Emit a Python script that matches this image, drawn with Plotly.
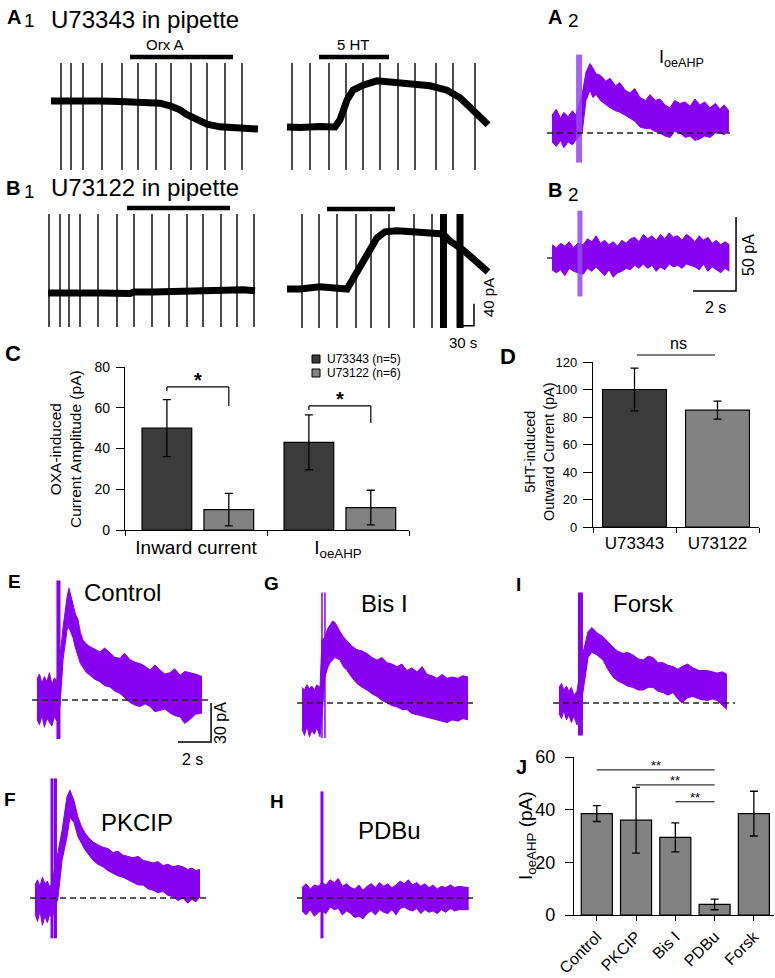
import plotly.graph_objects as go

W, H = 775, 978
FONT = "Arial, 'Liberation Sans', sans-serif"
PURPLE = "#8800f0"
ART = "rgba(150, 70, 240, 0.85)"
DARK = "#3b3b3b"
GRAY = "#828282"

# ---------------- data ----------------
# A1: U73343 in pipette (time in s, holding current in pA)
a1_orx_t = [0, 48, 98, 138, 164, 198, 218, 238, 258, 272, 292, 312, 338, 364, 392, 414]
a1_orx_i = [0, 1, 0, -1, -2, -2, -4, -9, -16, -25, -35, -42, -47, -49, -49, -51]
a1_orx_spikes = [20, 40, 64, 102, 142, 174, 210, 240, 280, 312, 348, 382]
a1_orx_app = [158, 364]

a1_5ht_t = [0, 26, 66, 96, 106, 120, 132, 152, 180, 206, 246, 286, 320, 346, 366, 386, 402]
a1_5ht_i = [0, -1, 1, 0, 13, 49, 67, 76, 84, 82, 80, 75, 67, 53, 36, 18, 4]
a1_5ht_spikes = [10, 46, 84, 118, 152, 186, 222, 256, 298, 332, 376]
a1_5ht_app = [64, 204]

# B1: U73122 in pipette
b1_orx_t = [0, 52, 104, 164, 172, 210, 244, 304, 340, 364, 390, 414]
b1_orx_i = [0, 1, 0, -1, 2, 2, 3, 3, 5, 5, 6, 4]
b1_orx_spikes = [2, 24, 42, 64, 100, 138, 172, 208, 242, 278, 310, 346, 378, 412]
b1_orx_app = [158, 364]

b1_5ht_t = [0, 26, 66, 96, 120, 140, 160, 180, 196, 220, 250, 286, 312, 326, 352, 380, 402]
b1_5ht_i = [0, 0, 4, 0, 0, 31, 65, 93, 104, 106, 104, 103, 100, 87, 71, 49, 31]
b1_5ht_spikes = [30, 64, 100, 138, 168, 204, 254, 290]
b1_5ht_bursts = [313, 346]
b1_5ht_app = [80, 216]
SPIKE_AMP = 400  # spikes are off-scale (clipped by the panel)

# A2 / B2: IoeAHP traces (time s, current pA) - upper / lower envelope of noisy record
a2_t = [0.00, 0.20, 0.40, 0.55, 0.75, 0.95, 1.10, 1.40, 1.58, 1.77, 1.90, 2.05, 2.25, 2.50, 2.70,
        2.95, 3.16, 3.40, 3.63, 3.85, 4.09, 4.35, 4.56, 4.80, 5.02, 5.25, 5.49, 5.70, 5.95, 6.20,
        6.42, 6.65, 6.88, 7.10, 7.35, 7.60, 7.81, 8.00, 8.23]
a2_hi = [12, 16, 10, 14, 11, 15, 12, 26, 41, 47, 44, 40, 39, 35, 37, 32, 34, 29, 27, 30, 24, 22,
         26, 22, 23, 19, 17, 22, 20, 21, 18, 23, 19, 21, 17, 20, 16, 19, 15]
a2_lo = [-6, -9, -5, -10, -6, -8, -5, 0, 22, 29, 24, 26, 22, 19, 17, 15, 14, 12, 10, 8, 4, 3, 3,
         1, 0, -2, -3, 1, 0, -3, -2, -5, -4, -2, -3, 0, 0, -1, 1]
a2_art = [1.26]
a2_art_range = [-20, 53]

b2_t = [0.00, 0.20, 0.40, 0.60, 0.80, 1.00, 1.20, 1.45, 1.65, 1.85, 2.05, 2.25, 2.45, 2.65, 2.85,
        3.05, 3.25, 3.45, 3.65, 3.85, 4.05, 4.25, 4.45, 4.65, 4.85, 5.05, 5.25, 5.45, 5.65, 5.85,
        6.05, 6.25, 6.45, 6.65, 6.85, 7.05, 7.25, 7.45, 7.65, 7.85, 8.05, 8.25]
b2_hi = [9, 7, 10, 8, 11, 7, 10, 9, 13, 11, 15, 10, 12, 9, 11, 8, 12, 10, 13, 14, 11, 16, 13, 15,
         12, 16, 13, 17, 14, 15, 12, 16, 14, 11, 15, 12, 14, 10, 12, 9, 11, 9]
b2_lo = [-8, -10, -8, -12, -7, -9, -10, -11, -7, -9, -6, -9, -12, -8, -13, -10, -9, -7, -8, -5,
         -7, -4, -7, -5, -9, -6, -8, -4, -6, -5, -7, -4, -5, -6, -8, -4, -9, -6, -8, -10, -7, -9]
b2_art = [1.30]
b2_art_range = [-26, 32]

# E-I: IoeAHP under different conditions
e_t = [0.00, 0.15, 0.30, 0.45, 0.60, 0.75, 0.90, 1.05, 1.20, 1.39, 1.58, 1.82, 1.94, 2.05, 2.18,
       2.33, 2.48, 2.63, 2.79, 3.00, 3.21, 3.50, 3.82, 4.10, 4.42, 4.70, 5.03, 5.30, 5.64, 5.95,
       6.24, 6.55, 6.85, 7.15, 7.45, 7.75, 8.06, 8.35, 8.67, 8.95, 9.27, 9.60, 10.0]
e_hi = [16, 20, 13, 18, 14, 21, 12, 17, 15, 33, 56, 79, 86, 80, 75, 66, 62, 52, 46, 43, 41, 39,
        37, 40, 36, 33, 32, 36, 31, 29, 28, 26, 23, 27, 23, 20, 21, 24, 19, 22, 21, 20, 18]
e_lo = [-15, -19, -12, -21, -14, -17, -20, -13, -16, -5, 31, 54, 56, 52, 48, 40, 33, 28, 25, 21,
        19, 16, 14, 11, 10, 7, 5, 2, -2, -4, -5, -3, -5, -9, -8, -7, -10, -12, -13, -18, -15, -11, -10]
e_art = [1.30]
e_art_range = [-30, 92]

f_t = [0.00, 0.15, 0.30, 0.45, 0.60, 0.75, 0.90, 1.03, 1.39, 1.64, 1.94, 2.12, 2.36, 2.61, 2.82,
       3.03, 3.27, 3.52, 3.80, 4.12, 4.42, 4.73, 5.03, 5.33, 5.64, 5.94, 6.25, 6.55, 6.85, 7.15,
       7.45, 7.76, 8.06, 8.36, 8.67, 8.97, 9.25, 9.52, 9.75, 10.0]
f_hi = [10, 14, 9, 16, 11, 13, 8, 12, 35, 52, 78, 83, 75, 62, 55, 50, 46, 43, 41, 39, 38, 35, 36,
        33, 32, 31, 32, 29, 28, 27, 28, 25, 26, 24, 25, 24, 22, 23, 21, 22]
f_lo = [-12, -18, -10, -21, -14, -19, -12, -16, 0, 29, 47, 62, 58, 47, 42, 37, 33, 29, 26, 24, 21,
        19, 17, 16, 14, 12, 10, 10, 7, 6, 4, 5, 2, 1, -2, 0, -4, -1, -3, 1]
f_art = [1.03, 1.24]
f_art_range = [-31, 92]

g_t = [0.00, 0.15, 0.30, 0.45, 0.60, 0.75, 0.90, 1.09, 1.21, 1.39, 1.55, 1.70, 1.85, 2.00, 2.15,
       2.30, 2.50, 2.73, 3.00, 3.33, 3.65, 3.94, 4.25, 4.55, 4.85, 5.15, 5.45, 5.76, 6.05, 6.36,
       6.65, 6.97, 7.28, 7.58, 7.88, 8.18, 8.50, 8.79, 9.10, 9.45, 9.75, 10.06]
g_hi = [12, 10, 14, 11, 13, 10, 14, 12, 48, 51, 57, 60, 63, 62, 58, 55, 51, 48, 44, 41, 40, 38, 35,
        33, 35, 31, 30, 28, 30, 25, 27, 24, 28, 22, 21, 19, 22, 19, 20, 19, 21, 20]
g_lo = [-20, -25, -18, -26, -21, -24, -19, -26, -11, 20, 27, 31, 33, 35, 34, 33, 28, 25, 20, 15, 12,
        10, 7, 5, 2, 0, -2, -3, -5, -5, -8, -9, -10, -11, -12, -13, -14, -15, -13, -14, -12, -13]
g_art = [1.21, 1.39]
g_art_range = [-27, 85]

h_t = [0.00, 0.25, 0.50, 0.75, 1.00, 1.20, 1.45, 1.70, 1.95, 2.20, 2.45, 2.70, 2.95, 3.20, 3.45,
       3.70, 3.95, 4.20, 4.45, 4.70, 4.95, 5.20, 5.45, 5.70, 5.95, 6.20, 6.45, 6.70, 6.95, 7.20,
       7.45, 7.70, 7.95, 8.20, 8.45, 8.70, 9.00, 9.25, 9.50, 10.1]
h_hi = [8, 11, 7, 10, 9, 12, 10, 14, 12, 15, 9, 11, 8, 7, 10, 6, 9, 11, 8, 12, 9, 11, 8, 10, 13,
        11, 14, 10, 12, 9, 11, 8, 10, 7, 9, 8, 10, 8, 9, 8]
h_lo = [-10, -13, -9, -14, -11, -10, -12, -7, -9, -8, -13, -10, -12, -15, -14, -16, -12, -10, -13,
        -9, -11, -12, -9, -13, -8, -7, -9, -10, -8, -12, -9, -11, -10, -12, -9, -11, -8, -10, -9, -9]
h_art = [1.21]
h_art_range = [-31, 82]

i_t = [0.00, 0.15, 0.30, 0.45, 0.60, 0.75, 0.90, 1.09, 1.45, 1.76, 2.00, 2.30, 2.67, 2.95, 3.27,
       3.55, 3.88, 4.15, 4.48, 4.80, 5.09, 5.40, 5.70, 6.00, 6.30, 6.60, 6.91, 7.20, 7.45, 7.80,
       8.12, 8.50, 8.97, 9.30, 9.58, 9.90, 10.18]
i_hi = [12, 15, 10, 13, 9, 12, 6, 9, 38, 55, 58, 54, 51, 47, 43, 40, 38, 39, 37, 34, 33, 36, 35,
        31, 31, 29, 28, 26, 28, 30, 27, 25, 25, 24, 23, 24, 22]
i_lo = [-8, -12, -6, -13, -9, -15, -10, -17, 8, 35, 39, 37, 33, 26, 20, 17, 15, 13, 12, 10, 10, 12,
        12, 9, 8, 6, 8, 3, 0, 4, 5, 3, 2, 3, 2, -2, -5]
i_art = [1.30]
i_art_range = [-25, 85]

# C: OXA-induced current amplitude (pA)
c_groups = ["Inward current", "I<sub>oeAHP</sub>"]
c_u73343 = [50, 43]
c_u73343_err = [14, 13.5]
c_u73122 = [10, 11]
c_u73122_err = [8, 8.5]
c_sig = [[70.2, 60.9], [60.9, 52.5]]  # bracket heights (left top, right end)

# D: 5HT-induced outward current (pA)
d_groups = ["U73343", "U73122"]
d_vals = [100, 85]
d_err = [15.5, 6.5]

# J: IoeAHP (pA)
j_groups = ["Control", "PKCIP", "Bis I", "PDBu", "Forsk"]
j_vals = [38.5, 36, 29.5, 4, 38.5]
j_err = [3, 12.5, 5.5, 2, 8.5]
j_sig = [[0, 3, 55.1], [1, 3, 49.4], [2, 3, 43.0]]

# ---------------- figure ----------------
fig = go.Figure()
layout = {}
shapes = []
anns = []


def axn(i):
    return "" if i == 1 else str(i)


def trace_axes(i, box, x0, sx, y0, sy):
    l, t, r, b = box
    n = axn(i)
    layout["xaxis" + n] = dict(domain=[l / W, r / W], range=[(l - x0) / sx, (r - x0) / sx],
                               visible=False, anchor="y" + n, automargin=False)
    layout["yaxis" + n] = dict(domain=[1 - b / H, 1 - t / H], range=[(y0 - b) / sy, (y0 - t) / sy],
                               visible=False, anchor="x" + n, automargin=False)
    return "x" + n, "y" + n


def line(xa, ya, xs, ys, color="black", width=1.2, dash=None):
    fig.add_trace(go.Scatter(x=xs, y=ys, mode="lines", xaxis=xa, yaxis=ya, hoverinfo="skip",
                             line=dict(color=color, width=width, dash=dash)))


def black_panel(xa, ya, t, cur, spikes, app, app_y, bursts=()):
    sx, sy = [], []
    for s in spikes:
        sx += [s, s, None]
        sy += [-SPIKE_AMP, SPIKE_AMP, None]
    line(xa, ya, sx, sy, width=1.4)
    for b in bursts:
        line(xa, ya, [b, b], [-SPIKE_AMP, SPIKE_AMP], width=7)
    line(xa, ya, t, cur, width=7)
    shapes.append(dict(type="line", xref=xa, yref="paper", x0=app[0], x1=app[1],
                       y0=1 - app_y / H, y1=1 - app_y / H, line=dict(color="black", width=4.5)))


def purple_panel(xa, ya, t, hi, lo, arts, art_range, art_w=4, art_color=PURPLE, base=None):
    fig.add_trace(go.Scatter(x=t, y=lo, mode="lines", xaxis=xa, yaxis=ya, hoverinfo="skip",
                             line=dict(color=PURPLE, width=1)))
    fig.add_trace(go.Scatter(x=t, y=hi, mode="lines", xaxis=xa, yaxis=ya, hoverinfo="skip",
                             fill="tonexty", fillcolor=PURPLE, line=dict(color=PURPLE, width=1)))
    for a in arts:
        line(xa, ya, [a, a], art_range, color=art_color, width=art_w)
    if base is not None:
        line(xa, ya, base, [0, 0], color="#222", width=1.3, dash="6px,4px")


def ann(text, x, y, size, bold=False, xanchor="center", angle=0, color="black"):
    if bold:
        text = "<b>" + text + "</b>"
    anns.append(dict(text=text, x=x / W, y=1 - y / H, xref="paper", yref="paper", showarrow=False,
                     xanchor=xanchor, yanchor="middle", textangle=angle,
                     font=dict(size=size, color=color, family=FONT)))


# A1
xa, ya = trace_axes(1, (45, 63, 262, 170), 51, 0.5, 101, 0.55)
black_panel(xa, ya, a1_orx_t, a1_orx_i, a1_orx_spikes, a1_orx_app, 57)
xa, ya = trace_axes(2, (282, 63, 492, 170), 287, 0.5, 127, 0.55)
black_panel(xa, ya, a1_5ht_t, a1_5ht_i, a1_5ht_spikes, a1_5ht_app, 57)
# B1
xa, ya = trace_axes(3, (44, 214, 260, 327), 48, 0.5, 293, 0.55)
black_panel(xa, ya, b1_orx_t, b1_orx_i, b1_orx_spikes, b1_orx_app, 208)
xa, ya = trace_axes(4, (282, 214, 492, 328), 287, 0.5, 289, 0.55)
black_panel(xa, ya, b1_5ht_t, b1_5ht_i, b1_5ht_spikes, b1_5ht_app, 209, bursts=b1_5ht_bursts)
line(xa, ya, [344, 374, 374], [-67, -67, -27], width=1.5)  # 30 s / 40 pA scale bar

# A2
xa, ya = trace_axes(5, (540, 40, 745, 170), 552, 21.5, 133, 1.48)
purple_panel(xa, ya, a2_t, a2_hi, a2_lo, a2_art, a2_art_range, art_w=6, art_color=ART,
             base=[-0.23, 8.28])
# B2
xa, ya = trace_axes(6, (540, 200, 745, 300), 552, 21.5, 258, 1.48)
line(xa, ya, [-0.23, 0], [0, 0], width=1.2)
purple_panel(xa, ya, b2_t, b2_hi, b2_lo, b2_art, b2_art_range, art_w=5, art_color=ART)
line(xa, ya, [6.56, 8.56, 8.56], [-22.3, -22.3, 27.7], width=1.5)  # 2 s / 50 pA

# E
xa, ya = trace_axes(7, (25, 570, 230, 750), 37, 16.5, 700, 1.3)
purple_panel(xa, ya, e_t, e_hi, e_lo, e_art, e_art_range, art_w=4, base=[-0.3, 10.36])
line(xa, ya, [8.55, 10.55, 10.55], [-32.3, -32.3, -2.3], width=1.5)  # 2 s / 30 pA
# F
xa, ya = trace_axes(8, (25, 775, 230, 945), 35, 16.5, 898, 1.3)
purple_panel(xa, ya, f_t, f_hi, f_lo, f_art, f_art_range, art_w=3, base=[-0.3, 10.48])
# G
xa, ya = trace_axes(9, (290, 580, 485, 745), 302, 16.5, 703, 1.3)
purple_panel(xa, ya, g_t, g_hi, g_lo, g_art, g_art_range, art_w=1.5, base=[-0.3, 10.6])
# H
xa, ya = trace_axes(10, (290, 785, 485, 945), 302, 16.5, 898, 1.3)
purple_panel(xa, ya, h_t, h_hi, h_lo, h_art, h_art_range, art_w=3, base=[-0.3, 10.6])
# I
xa, ya = trace_axes(11, (545, 580, 745, 745), 559, 16.5, 703, 1.3)
purple_panel(xa, ya, i_t, i_hi, i_lo, i_art, i_art_range, art_w=5, base=[-0.36, 10.67])

# ---------------- bar charts ----------------
EB = dict(type="data", color="black", thickness=1.3, width=4)
BL = dict(color="black", width=1.2)
fig.add_trace(go.Bar(x=c_groups, y=c_u73343, width=0.35, offset=-0.38, name="U73343 (n=5)",
                     marker=dict(color=DARK, line=BL), error_y=dict(array=c_u73343_err, **EB),
                     xaxis="x12", yaxis="y12"))
fig.add_trace(go.Bar(x=c_groups, y=c_u73122, width=0.35, offset=0.056, name="U73122 (n=6)",
                     marker=dict(color=GRAY, line=BL), error_y=dict(array=c_u73122_err, **EB),
                     xaxis="x12", yaxis="y12"))
fig.add_trace(go.Bar(x=d_groups, y=d_vals, width=0.77, marker=dict(color=[DARK, GRAY], line=BL),
                     error_y=dict(array=d_err, **EB), xaxis="x13", yaxis="y13"))
fig.add_trace(go.Bar(x=j_groups, y=j_vals, width=0.79, marker=dict(color=GRAY, line=BL),
                     error_y=dict(array=j_err, **EB), xaxis="x14", yaxis="y14"))

AX = dict(showline=True, linecolor="black", linewidth=1.3, ticks="outside", tickcolor="black",
          tickwidth=1.3, showgrid=False, zeroline=False, fixedrange=True, automargin=False)
layout["xaxis12"] = dict(AX, domain=[125 / W, 409 / W], anchor="y12", type="category",
                         range=[-0.5, 1.5], tickson="boundaries", ticklen=5,
                         tickfont=dict(size=19))
layout["yaxis12"] = dict(AX, domain=[1 - 530 / H, 1 - 367 / H], anchor="x12", range=[0, 80],
                         dtick=20, ticklen=8, tickfont=dict(size=14), ticklabelstandoff=3)
layout["xaxis13"] = dict(AX, domain=[593 / W, 759 / W], anchor="y13", type="category",
                         range=[-0.5, 1.5], tickson="boundaries", ticklen=5,
                         tickfont=dict(size=17))
layout["yaxis13"] = dict(AX, domain=[1 - 527 / H, 1 - 362 / H], anchor="x13", range=[0, 120],
                         dtick=20, ticklen=9, tickfont=dict(size=13), ticklabelstandoff=3)
layout["xaxis14"] = dict(AX, domain=[574 / W, 773.5 / W], anchor="y14", type="category",
                         range=[-0.58, 4.5], ticklen=5, tickangle=-45, tickfont=dict(size=16))
layout["yaxis14"] = dict(AX, domain=[1 - 915 / H, 1 - 757 / H], anchor="x14", range=[0, 60],
                         dtick=20, ticklen=8, tickfont=dict(size=18), ticklabelstandoff=6)

# C significance brackets (bar centres)
for g, (ytop, yend) in enumerate(c_sig):
    xl, xr = g - 0.205, g + 0.231
    for x0, y0, x1, y1 in [(xl, ytop - 2, xl, ytop), (xl, ytop, xr, ytop), (xr, ytop, xr, yend)]:
        shapes.append(dict(type="line", xref="x12", yref="y12", x0=x0, y0=y0, x1=x1, y1=y1,
                           line=dict(color="black", width=1.2)))
    anns.append(dict(text="<b>*</b>", x=(xl + xr) / 2, y=ytop, xref="x12", yref="y12",
                     showarrow=False, yanchor="bottom", yshift=-6, font=dict(size=20, family=FONT)))
# J significance lines
for a, b, yv in j_sig:
    shapes.append(dict(type="line", xref="x14", yref="y14", x0=a, x1=b, y0=yv, y1=yv,
                       line=dict(color="black", width=1)))
    anns.append(dict(text="**", x=(a + b) / 2, y=yv, xref="x14", yref="y14", showarrow=False,
                     yanchor="bottom", yshift=-5, font=dict(size=13, family=FONT)))
# D ns line
shapes.append(dict(type="line", xref="x13", yref="paper", x0=0.03, x1=0.97, y0=1 - 355 / H,
                   y1=1 - 355 / H, line=dict(color="black", width=1)))
ann("ns", 678, 343, 16)

# C legend
for yy, col, txt in [(359, DARK, "U73343 (n=5)"), (373, GRAY, "U73122 (n=6)")]:
    shapes.append(dict(type="rect", xref="paper", yref="paper", x0=312 / W, x1=320 / W,
                       y0=1 - (yy + 4) / H, y1=1 - (yy - 4) / H, fillcolor=col,
                       line=dict(color="black", width=1)))
    ann(txt, 325, yy, 12, xanchor="left")

# ---------------- text ----------------
ann("A", 14, 17, 20, bold=True); ann("1", 29, 21, 19)
ann("U73343 in pipette", 49, 20, 24, xanchor="left")
ann("Orx A", 165, 44, 15); ann("5 HT", 353, 44, 15)
ann("A", 555, 17, 20, bold=True); ann("2", 573, 21, 19)
ann("I<sub>oeAHP</sub>", 657, 58, 18, xanchor="left")
ann("B", 13, 188, 20, bold=True); ann("1", 29, 191, 19)
ann("U73122 in pipette", 49, 188, 24, xanchor="left")
ann("40 pA", 489, 298, 15, angle=-90); ann("30 s", 463, 342, 15)
ann("B", 555, 190, 20, bold=True); ann("2", 573, 194, 19)
ann("50 pA", 748, 255, 16, angle=-90); ann("2 s", 715, 307, 16)
ann("C", 13, 353, 22, bold=True)
ann("OXA-induced<br>Current Amplitude (pA)", 65, 449, 15.5, angle=-90)
ann("D", 508, 356, 22, bold=True)
ann("5HT-induced<br>Outward Current (pA)", 539, 452, 14.5, angle=-90)
ann("E", 14, 581, 19, bold=True); ann("Control", 122, 592, 24)
ann("30 pA", 220, 723, 16, angle=-90); ann("2 s", 192, 759, 16)
ann("F", 10, 799, 19, bold=True); ann("PKCIP", 137, 822, 24)
ann("G", 271, 583, 19, bold=True); ann("Bis I", 384, 603, 24)
ann("H", 277, 801, 19, bold=True); ann("PDBu", 390, 830, 24)
ann("I", 518, 584, 19, bold=True); ann("Forsk", 643, 603, 24)
ann("J", 521, 767, 20, bold=True)
ann("I<sub>oeAHP</sub> (pA)", 527, 836, 19, angle=-90)

fig.update_layout(template="none", width=W, height=H, margin=dict(l=0, r=0, t=0, b=0, pad=0),
                  autosize=False, paper_bgcolor="white", plot_bgcolor="rgba(0,0,0,0)",
                  showlegend=False, barmode="group", font=dict(family=FONT, color="black"),
                  shapes=shapes, annotations=anns, **layout)

fig.write_html("out.html", config={"displayModeBar": False},
               post_script="document.body.style.margin='0';")
